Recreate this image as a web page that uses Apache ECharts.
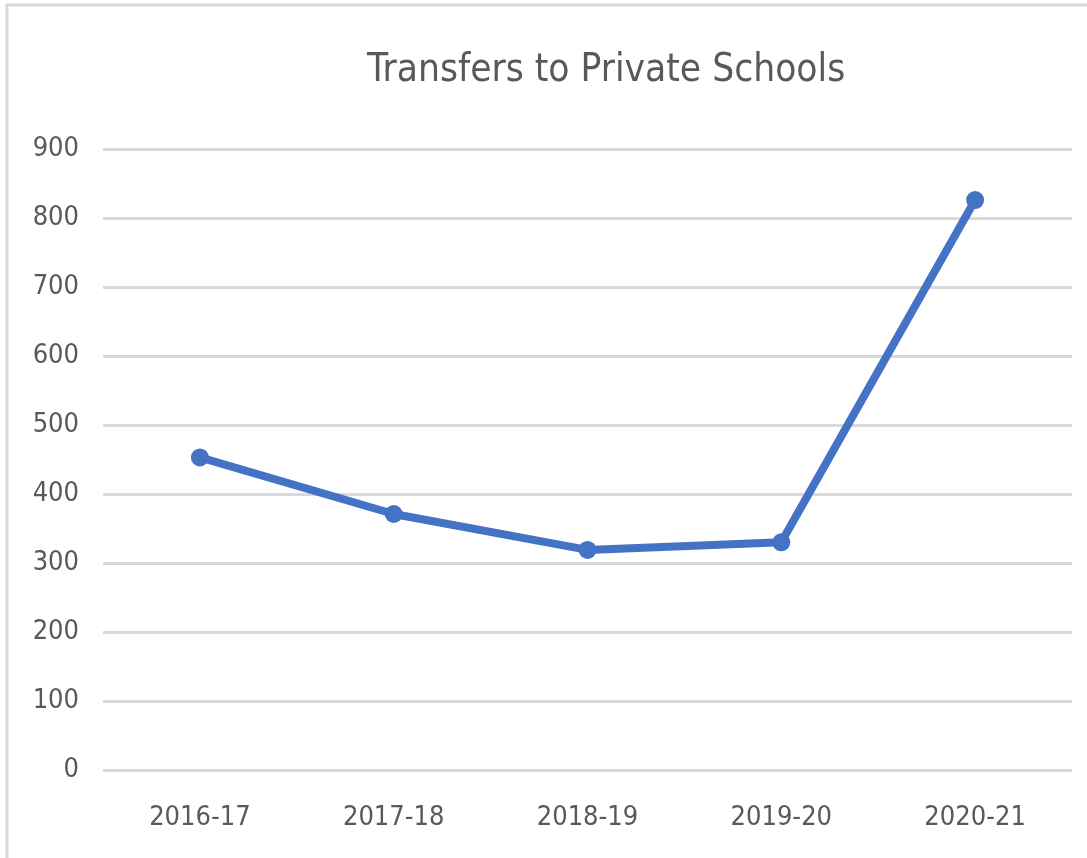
<!DOCTYPE html>
<html>
<head>
  <meta charset="utf-8">
  <script src="https://cdn.jsdelivr.net/npm/echarts@6/dist/echarts.min.js"></script>
</head>
<body style="margin: 0; background: #fff;">
  <div id="container" style="width: 1087px; height: 858px;"></div>
  <script type="text/javascript">
    var years = ['2016-17', '2017-18', '2018-19', '2019-20', '2020-21'];
    var transfers = [453, 371, 319, 330, 826];

    var chart = echarts.init(document.getElementById('container'), null, { renderer: 'canvas' });
    var font = '"Liberation Sans Narrow", "DejaVu Sans Condensed", sans-serif';

    var option = {
      backgroundColor: '#fff',
      title: {
        text: 'Transfers to Private Schools',
        left: 362,
        top: 46,
        textStyle: { fontFamily: font, fontSize: 38.5, fontWeight: 'normal', color: '#595959' }
      },
      graphic: [{
        type: 'rect',
        shape: { x: 7, y: 5, width: 1200, height: 1000 },
        style: { fill: 'none', stroke: '#d9d9d9', lineWidth: 3 },
        silent: true
      }],
      grid: { left: 103, right: 15, top: 149, bottom: 88 },
      xAxis: {
        type: 'category',
        data: years,
        boundaryGap: true,
        axisLine: { show: false },
        axisTick: { show: false },
        axisLabel: { margin: 34, fontFamily: font, fontSize: 27, color: '#595959' }
      },
      yAxis: {
        type: 'value',
        min: 0,
        max: 900,
        interval: 100,
        axisLine: { show: false },
        axisTick: { show: false },
        axisLabel: { margin: 24, fontFamily: font, fontSize: 27, color: '#595959' },
        splitLine: { lineStyle: { color: '#d9d9d9', width: 3 } }
      },
      series: [{
        type: 'line',
        data: transfers,
        symbol: 'circle',
        symbolSize: 18,
        itemStyle: { color: '#4472c4' },
        lineStyle: { color: '#4472c4', width: 8 }
      }]
    };

    chart.setOption(option);
  </script>
</body>
</html>
